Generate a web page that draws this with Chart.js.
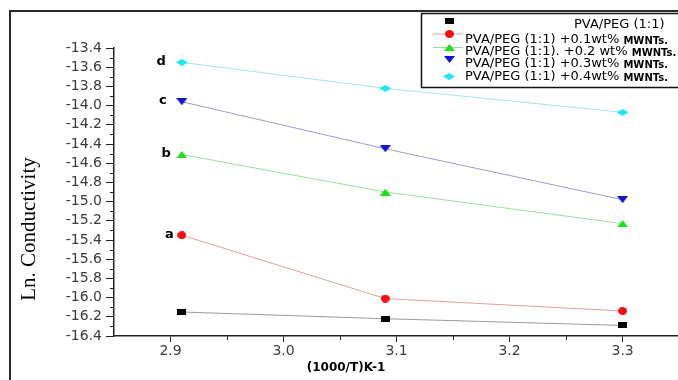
<!DOCTYPE html>
<html>
<head>
<meta charset="utf-8">
<script src="https://cdn.jsdelivr.net/npm/chart.js@4/dist/chart.umd.min.js"></script>
<style>
  html, body { margin: 0; padding: 0; background: #fff; }
  #chart { display: block; }
</style>
</head>
<body>
<canvas id="chart" width="678" height="380"></canvas>
<script>
// values
const xValues = [2.91, 3.09, 3.3];
const pvaPeg = [-16.15, -16.22, -16.29];
const mwnt01 = [-15.35, -16.01, -16.14];
const mwnt02 = [-14.51, -14.90, -15.23];
const mwnt03 = [-13.96, -14.45, -14.98];
const mwnt04 = [-13.55, -13.82, -14.07];
const seriesNames = [
    'PVA/PEG (1:1)',
    'PVA/PEG (1:1) +0.1wt% MWNTs.',
    'PVA/PEG (1:1). +0.2 wt% MWNTs.',
    'PVA/PEG (1:1) +0.3wt% MWNTs.',
    'PVA/PEG (1:1) +0.4wt% MWNTs.'
];
const curveLetters = ['', 'a', 'b', 'c', 'd'];
const xTicks = [2.9, 3.0, 3.1, 3.2, 3.3];
const yTicks = [-13.4, -13.6, -13.8, -14.0, -14.2, -14.4, -14.6, -14.8, -15.0,
                -15.2, -15.4, -15.6, -15.8, -16.0, -16.2, -16.4];

// small canvas markers (squashed like the original)
function marker(shape, color, w, h) {
    const c = document.createElement('canvas');
    c.width = w; c.height = h;
    const g = c.getContext('2d');
    g.fillStyle = color;
    g.beginPath();
    if (shape === 'square') g.rect(0, 0, w, h);
    if (shape === 'circle') g.ellipse(w / 2, h / 2, w / 2, h / 2, 0, 0, Math.PI * 2);
    if (shape === 'up') { g.moveTo(w / 2, 0); g.lineTo(w, h); g.lineTo(0, h); }
    if (shape === 'down') { g.moveTo(0, 0); g.lineTo(w, 0); g.lineTo(w / 2, h); }
    if (shape === 'diamond') { g.moveTo(w / 2, 0); g.lineTo(w, h / 2); g.lineTo(w / 2, h); g.lineTo(0, h / 2); }
    g.closePath();
    g.fill();
    return c;
}

const markers = [
    marker('square', '#000000', 9, 6),
    marker('circle', '#f01010', 9, 8),
    marker('up', '#1edc1e', 11, 7),
    marker('down', '#1414c8', 11, 7),
    marker('diamond', '#1ee6f0', 12, 7)
];
const lineColors = ['#9a9a9a', '#dba0a0', '#a0dca0', '#9c9cc4', '#a0e4ec'];
const letterGap = [0, 8, 11, 15, 16];

const allSeries = [pvaPeg, mwnt01, mwnt02, mwnt03, mwnt04];
const datasets = allSeries.map((vals, i) => ({
    label: seriesNames[i],
    data: xValues.map((x, j) => ({ x: x, y: vals[j] })),
    borderColor: lineColors[i],
    borderWidth: 1,
    pointStyle: markers[i],
    pointRadius: 5,
    fill: false,
    tension: 0
}));

const extras = {
    id: 'extras',
    beforeDraw(chart) {
        const ctx = chart.ctx;
        ctx.save();
        ctx.fillStyle = '#2a2a2a';
        ctx.fillRect(9, 10, 2, 370);
        ctx.fillRect(9, 10, 669, 2);
        ctx.restore();
    },
    afterDraw(chart) {
        const ctx = chart.ctx;
        const xs = chart.scales.x, ys = chart.scales.y;
        ctx.save();
        // minor ticks
        ctx.strokeStyle = '#222';
        ctx.lineWidth = 1;
        for (let i = 0; i < yTicks.length - 1; i++) {
            const py = Math.round(ys.getPixelForValue((yTicks[i] + yTicks[i + 1]) / 2)) + 0.5;
            ctx.beginPath(); ctx.moveTo(xs.left, py); ctx.lineTo(xs.left - 4, py); ctx.stroke();
        }
        for (let i = 0; i < xTicks.length - 1; i++) {
            const px = Math.round(xs.getPixelForValue((xTicks[i] + xTicks[i + 1]) / 2)) + 0.5;
            ctx.beginPath(); ctx.moveTo(px, ys.bottom); ctx.lineTo(px, ys.bottom + 4); ctx.stroke();
        }

        // axis titles
        ctx.fillStyle = '#000';
        ctx.textAlign = 'center';
        ctx.textBaseline = 'middle';
        ctx.font = 'bold 12px "DejaVu Sans"';
        ctx.fillText('(1000/T)K-1', 346, 368);
        ctx.translate(29, 229);
        ctx.rotate(-Math.PI / 2);
        ctx.font = '21px "Liberation Serif"';
        ctx.fillText('Ln. Conductivity', 0, 0);
        ctx.restore();

        // curve letters
        ctx.save();
        ctx.font = 'bold 13px "DejaVu Sans"';
        ctx.fillStyle = '#000';
        ctx.textAlign = 'right';
        ctx.textBaseline = 'middle';
        chart.data.datasets.forEach((ds, i) => {
            if (!curveLetters[i]) return;
            const p = chart.getDatasetMeta(i).data[0];
            ctx.fillText(curveLetters[i], p.x - letterGap[i], p.y - 1);
        });
        ctx.restore();

        // legend box
        ctx.save();
        ctx.fillStyle = '#fff';
        ctx.fillRect(421, 13, 260, 74);
        ctx.strokeStyle = '#111';
        ctx.lineWidth = 1.5;
        ctx.strokeRect(421.5, 13.5, 270, 74);
        const markY = [20.5, 33.5, 47, 59.5, 76];
        const textY = [25, 40, 52, 64, 77];
        ctx.textBaseline = 'middle';
        ctx.fillStyle = '#000';
        seriesNames.forEach((name, i) => {
            if (i === 1 || i === 2) {
                ctx.strokeStyle = lineColors[i];
                ctx.lineWidth = 1;
                ctx.beginPath(); ctx.moveTo(433, markY[i] + 0.5); ctx.lineTo(463, markY[i] + 0.5); ctx.stroke();
            }
            const m = markers[i];
            ctx.drawImage(m, Math.round(449 - m.width / 2), Math.round(markY[i] - m.height / 2));
            const cut = name.indexOf('MWNTs.');
            ctx.font = '13px "DejaVu Sans"';
            ctx.textAlign = 'left';
            if (cut < 0) {
                ctx.fillText(name, 574, textY[i]);
            } else {
                const main = name.slice(0, cut);
                ctx.fillText(main, 465, textY[i]);
                const w = ctx.measureText(main).width;
                ctx.font = 'bold 10px "DejaVu Sans"';
                ctx.fillText('MWNTs.', 465 + w, textY[i] + 1);
            }
        });
        ctx.restore();
    }
};

const ctx = document.getElementById('chart').getContext('2d');
const grafico = new Chart(ctx, {
    type: 'line',
    data: { datasets: datasets },
    options: {
        responsive: false,
        animation: false,
        devicePixelRatio: 1,
        layout: { autoPadding: false, padding: { top: 48, left: 0, right: 0, bottom: 0 } },
        plugins: { legend: { display: false }, tooltip: { enabled: false } },
        scales: {
            x: {
                type: 'linear',
                min: 2.85,
                max: 3.349,
                afterBuildTicks: (axis) => { axis.ticks = xTicks.map(v => ({ value: v })); },
                afterFit: (axis) => { axis.height = 44; },
                ticks: {
                    autoSkip: false,
                    padding: 1,
                    color: '#3a3a3a',
                    font: { family: 'DejaVu Sans', size: 14 },
                    callback: (v) => v.toFixed(1)
                },
                grid: { drawOnChartArea: false, drawTicks: true, tickLength: 6, color: '#222', lineWidth: 1 },
                border: { color: '#222', width: 1.5 }
            },
            y: {
                min: -16.4,
                max: -13.4,
                afterBuildTicks: (axis) => { axis.ticks = yTicks.map(v => ({ value: v })); },
                afterFit: (axis) => { axis.width = 114; },
                ticks: {
                    autoSkip: false,
                    padding: 4,
                    color: '#3a3a3a',
                    font: { family: 'DejaVu Sans', size: 14 },
                    callback: (v) => v.toFixed(1)
                },
                grid: { drawOnChartArea: false, drawTicks: true, tickLength: 8, color: '#222', lineWidth: 1 },
                border: { color: '#222', width: 1.5 }
            }
        }
    },
    plugins: [extras]
});
</script>
</body>
</html>
